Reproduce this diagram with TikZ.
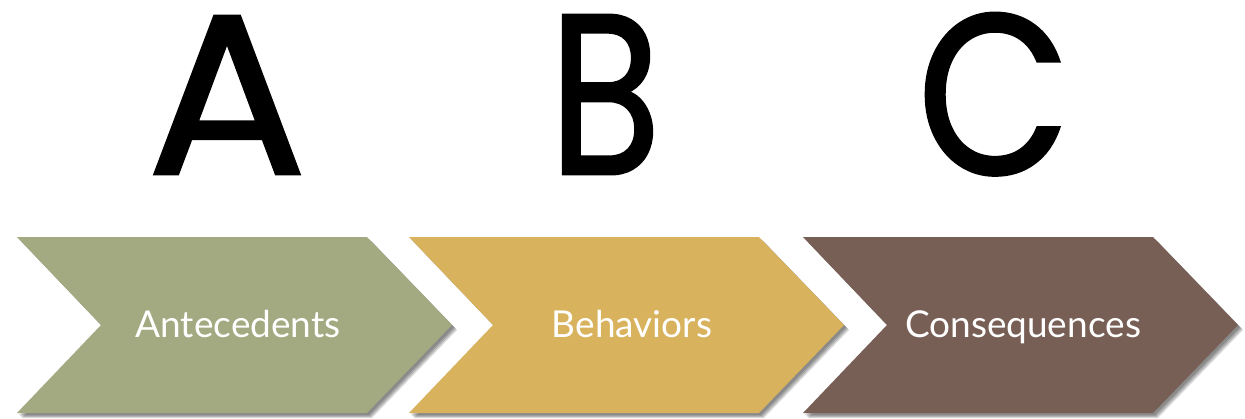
\documentclass[tikz,border=0pt]{standalone}
\usepackage{fontspec}
\setmainfont{Poppins}
\newfontfamily\bigfont{Poppins}[FakeBold=1.3]
\newfontfamily\labelfont{Lato}
\definecolor{cgreen}{RGB}{163,169,128}
\definecolor{cgold}{RGB}{216,178,92}
\definecolor{cbrown}{RGB}{120,95,85}
\begin{document}
\begin{tikzpicture}[x=1pt,y=-1pt,
  bigletter/.style={anchor=base,inner sep=0pt,font=\bigfont\fontsize{228}{228}\selectfont},
  chevlabel/.style={anchor=base,inner sep=0pt,text=white,font=\labelfont\fontsize{37}{37}\selectfont},
  shadowfill/.style={fill=black,opacity=0.14}]
\useasboundingbox (0,0) rectangle (1245,418);
\fill[white] (0,0) rectangle (1245,418);
\foreach \x/\c in {17/cgreen,409/cgold,803/cbrown}{
  \foreach \d in {2,3,4,5}{
    \fill[shadowfill] (\x+\d,237+\d) -- ++(350,0) -- ++(85,88) -- ++(-85,88) -- ++(-350,0) -- ++(84,-88) -- cycle;
  }
  \fill[\c] (\x,237) -- ++(350,0) -- ++(85,88) -- ++(-85,88) -- ++(-350,0) -- ++(84,-88) -- cycle;
}
\node[bigletter] (A) at (227,174) {\scalebox{1.04}[1]{A}};
\node[bigletter] (B) at (605,174) {\scalebox{0.8}[1]{B}};
\node[bigletter] (C) at (994,174) {\scalebox{0.87}[1]{C}};
\node[chevlabel] (ant) at (238,337) {Antecedents};
\node[chevlabel] (beh) at (632,337) {Behaviors};
\node[chevlabel] (con) at (1023,337) {Consequences};
\end{tikzpicture}
\end{document}
